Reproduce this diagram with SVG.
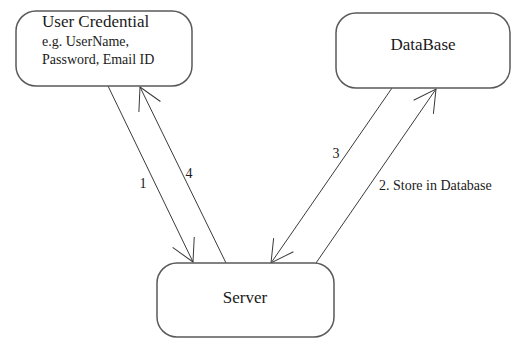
<svg xmlns="http://www.w3.org/2000/svg" width="512" height="338" viewBox="0 0 512 338" font-family="'Liberation Serif', 'Times New Roman', 'DejaVu Serif', serif">
  <style>
    .box { fill: #ffffff; stroke: #5a5a5a; stroke-width: 1.5; }
    .conn { fill: none; stroke: #3a3a3a; stroke-width: 1; }
    .head { fill: none; stroke: #3a3a3a; stroke-width: 1; }
    .t { font-family: 'Liberation Serif', 'Times New Roman', 'DejaVu Serif', serif; fill: #1a1a1a; }
    .title { font-size: 17px; }
    .sub { font-size: 14px; }
    .lbl { font-size: 14px; }
  </style>
  <defs>
    <marker id="open" markerUnits="userSpaceOnUse" markerWidth="30" markerHeight="30" viewBox="-26 -15 30 30" refX="0" refY="0" orient="auto">
      <path class="head" d="M -22 -12 L 0 0 L -22 12"/>
    </marker>
  </defs>
  <rect width="512" height="338" fill="#ffffff"/>

  <g id="connectors">
    <line class="conn" x1="108" y1="86" x2="193" y2="262" marker-end="url(#open)"/>
    <line class="conn" x1="226" y1="263" x2="140" y2="87" marker-end="url(#open)"/>
    <line class="conn" x1="316" y1="263" x2="436" y2="89" marker-end="url(#open)"/>
    <line class="conn" x1="392" y1="88" x2="271" y2="263" marker-end="url(#open)"/>
    <text class="t lbl" x="143" y="188" text-anchor="middle">1</text>
    <text class="t lbl" x="189" y="178" text-anchor="middle">4</text>
    <text class="t lbl" x="336" y="158" text-anchor="middle">3</text>
    <text class="t lbl" x="379" y="190">2. Store in Database</text>
  </g>

  <g id="user-credential">
    <rect class="box" x="16" y="11" width="176" height="75" rx="20" ry="20"/>
    <text class="t title" x="42" y="27">User Credential</text>
    <text class="t sub" x="42" y="46">e.g. UserName,</text>
    <text class="t sub" x="42" y="64">Password, Email ID</text>
  </g>

  <g id="database">
    <rect class="box" x="336" y="13" width="174" height="75" rx="20" ry="20"/>
    <text class="t title" x="423" y="50" text-anchor="middle">DataBase</text>
  </g>

  <g id="server">
    <rect class="box" x="157" y="263" width="177" height="74" rx="20" ry="20"/>
    <text class="t title" x="245" y="303" text-anchor="middle">Server</text>
  </g>
</svg>
